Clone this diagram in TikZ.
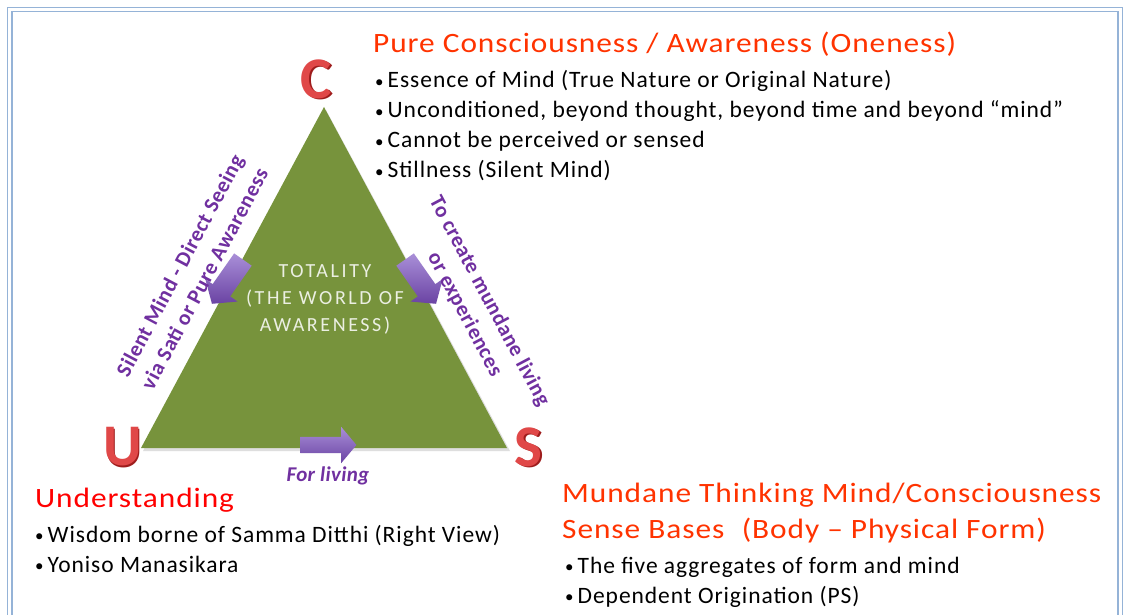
\documentclass[tikz,border=0pt]{standalone}
\usepackage{fontspec}
\usepackage{graphicx}
\setmainfont{Carlito}
\usetikzlibrary{shapes.arrows}
\definecolor{frameblue}{HTML}{95B3D7}
\definecolor{olive}{HTML}{77933C}
\definecolor{titlered}{HTML}{FF3300}
\definecolor{undred}{HTML}{FF0000}
\definecolor{purp}{HTML}{7030A0}
\definecolor{letterred}{HTML}{E04848}
\definecolor{letterdark}{HTML}{9E1C1C}
\definecolor{arrowtop}{HTML}{A98FD8}
\definecolor{arrowbot}{HTML}{6A43A3}
\newcommand{\bul}{\makebox[12.5pt][l]{\fontsize{17}{17}\selectfont\raisebox{0.5pt}{•}}}
\newcommand{\wide}[1]{\scalebox{1.12}[1]{#1}}
\begin{document}
\begin{tikzpicture}[x=1pt,y=-1pt,
  title/.style={anchor=base west, inner sep=0, text=titlered,
    font=\fontsize{28}{30}\selectfont\addfontfeature{LetterSpace=3}},
  bulletline/.style={anchor=base west, inner sep=0, text=black,
    font=\fontsize{23.5}{26}\selectfont\addfontfeature{LetterSpace=4}},
  side/.style={text=purp, font=\fontsize{21.5}{28}\selectfont\bfseries\addfontfeature{LetterSpace=2.5},
    align=center, inner sep=0},
  letter/.style={font=\fontsize{59}{60}\selectfont\bfseries, inner sep=0},
  blockarr/.style={single arrow, draw=none, top color=arrowtop, bottom color=arrowbot,
    inner xsep=0, minimum width=0, single arrow tip angle=100},
  frameline/.style={draw=frameblue, line width=1.5pt}
]
\useasboundingbox (0,0) rectangle (1125,615);
\clip (0,0) rectangle (1125,615);
\fill[white] (0,0) rectangle (1125,615);
% frame
\draw[frameline] (7.5,7.5) rectangle (1122.5,650);
\draw[frameline] (12,11.5) rectangle (1118,650);

% triangle
\coordinate (apex) at (324,107);
\coordinate (bl) at (141,448);
\coordinate (br) at (507,448);
\fill[black!25, opacity=0.5] (326,110) -- (143,451) -- (510,451) -- cycle;
\fill[olive] (apex) -- (bl) -- (br) -- cycle;

% corner letters
\node[letter, text=letterdark] (Csh) at (318,80.5) {C};
\node[letter, text=letterred] (C) at (316.5,79) {C};
\node[letter, text=letterdark] (Ush) at (124,448.5) {U};
\node[letter, text=letterred] (U) at (122.5,447) {U};
\node[letter, text=letterdark] (Ssh) at (530,448.5) {S};
\node[letter, text=letterred] (S) at (528.5,447) {S};

% central text
\node[align=center, inner sep=0, text=white!85!olive,
      font=\fontsize{20}{27}\selectfont\addfontfeature{LetterSpace=13}] (tot) at (325,299)
      {TOTALITY\\(THE WORLD OF\\AWARENESS)};

% block arrows
\node[blockarr, rotate=-125, minimum height=54, inner ysep=10.5, single arrow head extend=9] (al) at (230,278) {};
\node[blockarr, rotate=-55, minimum height=54, inner ysep=10.5, single arrow head extend=9] (ar) at (418,278) {};
\node[blockarr, rotate=0, minimum height=56, inner ysep=8, single arrow head extend=10] (ab) at (325,445) {};

% side labels
\node[side, rotate=62] (lefttxt) at (192,272) {Silent Mind - Direct Seeing\\via Sati or Pure Awareness};
\node[side, rotate=-62] (righttxt) at (477,308) {To create mundane living\\or experiences};
\node[side, font=\fontsize{21}{22}\selectfont\bfseries\itshape\addfontfeature{LetterSpace=1.5}] (forliving) at (328,476) {For living};

% top right block
\node[title] (ctitle) at (373,53) {\wide{Pure Consciousness / Awareness (Oneness)}};
\node[bulletline] (c1) at (375,88) {\bul Essence of Mind (True Nature or Original Nature)};
\node[bulletline] (c2) at (375,118) {\bul Unconditioned, beyond thought, beyond time and beyond “mind”};
\node[bulletline] (c3) at (375,148) {\bul Cannot be perceived or sensed};
\node[bulletline] (c4) at (375,178) {\bul Stillness (Silent Mind)};

% bottom left block
\node[title, text=undred] (utitle) at (35,507) {\wide{Understanding}};
\node[bulletline] (u1) at (35,542) {\bul Wisdom borne of Samma Ditthi (Right View)};
\node[bulletline] (u2) at (35,572) {\bul Yoniso Manasikara};

% bottom right block
\node[title] (stitle1) at (562,502) {\wide{Mundane Thinking Mind/Consciousness}};
\node[title] (stitle2) at (562,538) {\wide{Sense Bases\hspace{0.3em} (Body – Physical Form)}};
\node[bulletline] (s1) at (565,573) {\bul The five aggregates of form and mind};
\node[bulletline] (s2) at (565,603) {\bul Dependent Origination (PS)};
\end{tikzpicture}
\end{document}
